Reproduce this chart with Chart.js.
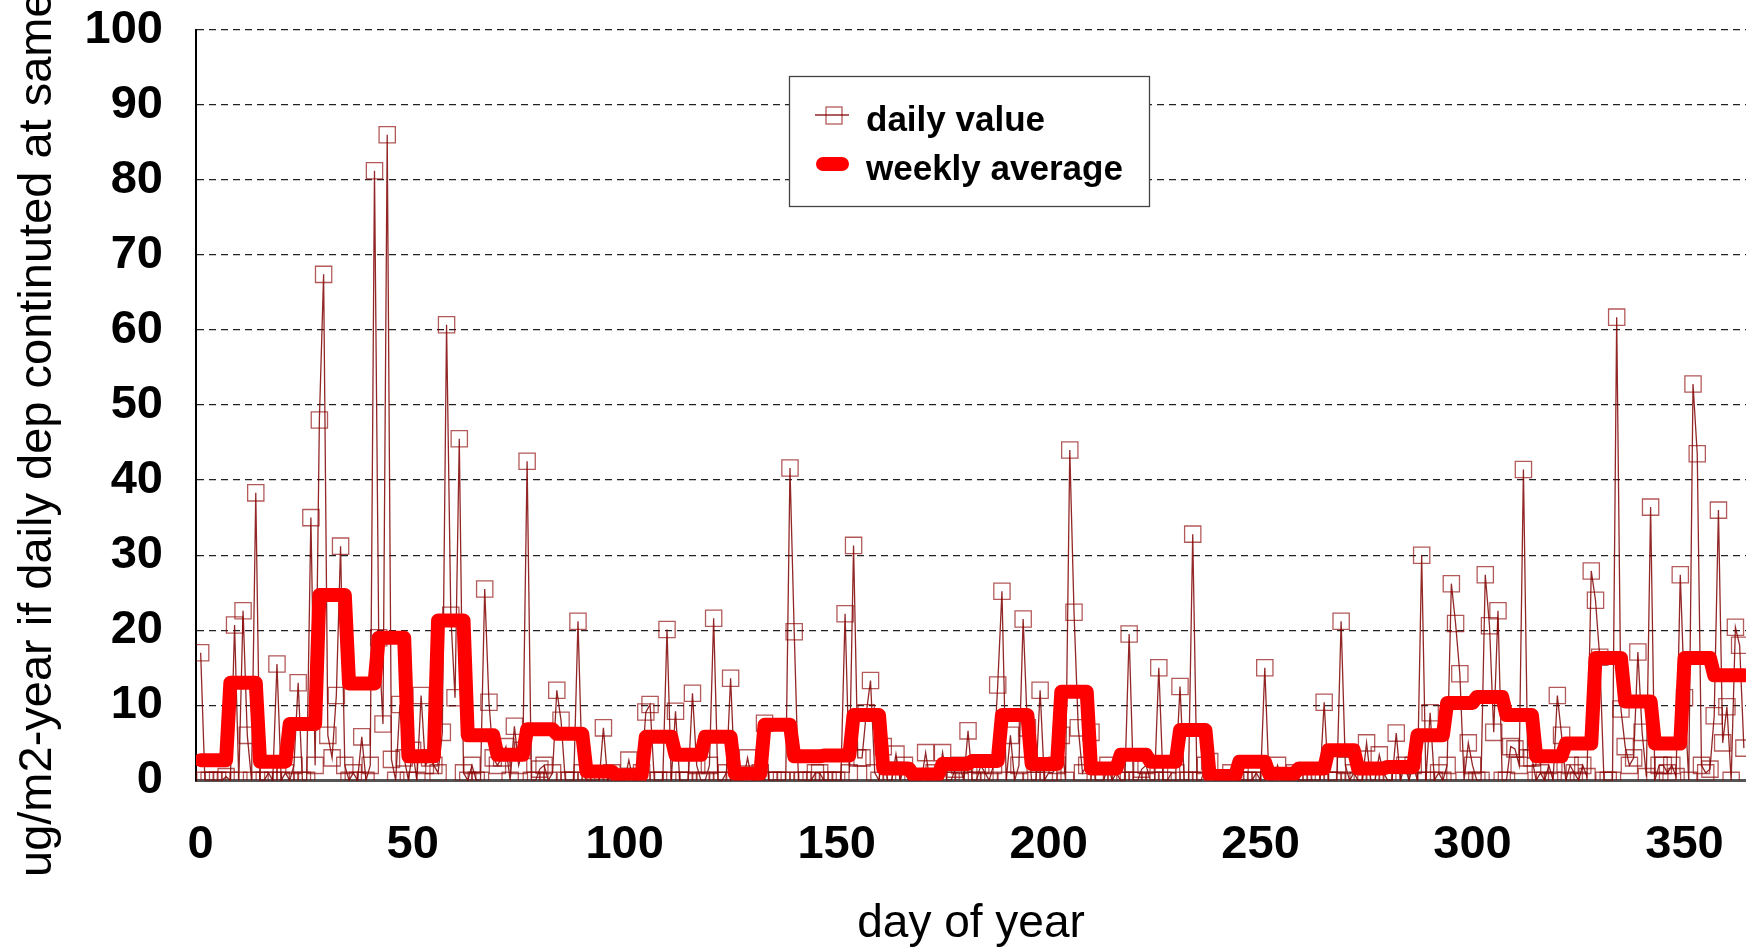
<!DOCTYPE html>
<html>
<head>
<meta charset="utf-8">
<title>daily deposition</title>
<script src="https://cdn.jsdelivr.net/npm/chart.js@4/dist/chart.umd.min.js"></script>
<style>
  html, body { margin: 0; padding: 0; background: #fff; overflow: hidden; }
  #wrap { width: 1746px; height: 950px; }
</style>
</head>
<body>
<div id="wrap"><canvas id="myChart" width="1746" height="950"></canvas></div>
<script>
/* global Chart */

// one value per day of year, day 0 first, a row per week
const dailyValues = [
  17, 0, 0, 0, 0, 0, 0.5,
  0, 20.7, 0, 22.6, 6, 0, 38.3,
  0, 0, 1, 0, 15.5, 0, 1,
  0, 2, 13, 0, 0, 35, 2,
  48, 67.4, 6, 3, 11.3, 31.2, 2,
  0, 1, 0, 5.8, 0, 2, 81.2,
  19, 7.5, 86, 2.8, 0, 10.1, 3,
  0, 4, 0, 11.3, 2, 3, 2,
  1, 6.4, 60.7, 22, 11, 45.5, 1,
  0, 2, 0, 0, 25.5, 10.4, 3,
  2, 3, 4.5, 0, 7.2, 2, 4,
  42.5, 0, 0, 1.5, 2, 0, 1,
  12, 8, 0, 0, 0, 21.2, 1,
  0, 0, 0, 0, 7, 0, 1,
  0, 0, 0, 2.7, 0, 0, 1,
  9.1, 10.1, 0, 0, 0, 20.1, 0,
  9.2, 0, 0, 0, 11.6, 2, 0,
  0, 2, 21.6, 0, 0, 1, 13.6,
  0, 0, 0, 3, 0, 0, 1,
  7.6, 0, 0, 0, 0, 0, 41.6,
  19.8, 0, 0, 0, 0, 1, 1,
  0, 0, 0, 0, 0, 22.2, 1,
  31.3, 3, 3, 9, 13.3, 1, 0,
  4.5, 0, 0, 3.5, 0, 2, 0,
  0, 0, 0, 3.7, 0, 1, 0,
  3.7, 0, 0, 1.5, 2, 0, 6.6,
  0, 0, 2, 1, 0, 2, 12.7,
  25.2, 0, 6, 0, 2, 21.5, 7,
  0, 0, 12, 0, 1, 1, 2,
  6, 0, 44, 22.4, 7, 1, 2,
  6.4, 0, 0, 0, 2, 0, 1,
  0, 0, 19.5, 0, 0, 1.5, 2,
  0, 0, 15, 0, 0, 1, 1,
  12.5, 0, 0, 32.8, 0, 0, 2,
  2.5, 0, 0, 0, 0, 1, 0,
  0, 0, 0, 0, 1, 0, 15,
  0, 0, 2, 0, 0, 0, 1,
  0, 0, 0, 0, 0, 0, 10.4,
  0, 0, 0, 21.2, 2, 0, 1,
  0, 0, 5, 0, 0, 3.4, 1,
  0, 0, 6.3, 0, 2, 0, 2,
  0, 30, 0, 9, 0, 1, 0,
  2, 26.2, 20.9, 14.2, 0, 5, 2,
  0, 0, 27.4, 20.6, 6.4, 22.6, 0,
  0, 4.5, 4.2, 2, 41.4, 3, 3,
  0, 1, 0, 2, 0, 11.3, 6,
  0, 2, 1, 0, 2, 0.5, 27.9,
  24, 16.4, 0, 0, 0, 61.7, 9.5,
  4.5, 2, 3, 17.1, 6.4, 0.5, 36.4,
  0, 2, 2, 1, 2, 0.5, 27.4,
  11, 0, 52.8, 43.5, 2, 1, 1.5,
  8.6, 36, 5, 9.8, 0, 20.4, 18,
  4.3
];

// weekly average, one per week starting at day 0
const weeklyAverages = [
  2.7, 13, 2.5, 7.5, 24.7, 12.9, 19, 3.2, 21.3, 6,
  3.4, 6.8, 6.2, 1.2, 0.7, 5.8, 3.4, 5.8, 0.9, 7.4,
  3.2, 3.3, 8.7, 1.6, 0.8, 2.2, 2.6, 8.7, 2.2, 11.8,
  1.6, 3.4, 2.5, 6.7, 0.6, 2.5, 0.9, 1.6, 4, 1.6,
  1.8, 6, 10.3, 11.1, 8.7, 3.2, 4.9, 16.3, 10.5, 4.9,
  16.3, 14, 14
];

const seriesNames = ['daily value', 'weekly average'];
const xTickValues = [0, 50, 100, 150, 200, 250, 300, 350];
const yTickValues = [0, 10, 20, 30, 40, 50, 60, 70, 80, 90, 100];
const xTitle = 'day of year';
const yTitle = 'ug/m2-year if daily dep continuted at same';

const depChart = (function () {
  'use strict';

  const fontName = "'Liberation Sans', Arial, Helvetica, sans-serif";
  const dailyColor = 'rgba(128, 0, 0, 0.85)';
  const markColor = 'rgba(140, 0, 0, 0.65)';
  const weekColor = '#ff0000';

  function buildDaily () {
    return dailyValues.map(function (v, day) {
      return { x: day, y: v };
    });
  }

  function buildWeekly () {
    // each day gets the average of its week, so the line steps
    return dailyValues.map(function (v, day) {
      return { x: day, y: weeklyAverages[Math.floor(day / 7)] };
    });
  }

  // no extra room for edge labels, the plot fills to the right edge
  function noScalePadding (scale) {
    scale.paddingLeft = 0;
    scale.paddingRight = 0;
    scale.paddingTop = 0;
    scale.paddingBottom = 0;
  }

  // y title runs bottom to top and off the top edge, like the original
  const yTitlePlugin = {
    id: 'yTitle',
    afterDraw: function (chart) {
      const ctx = chart.ctx;
      ctx.save();
      ctx.translate(51, 877);
      ctx.rotate(-Math.PI / 2);
      ctx.font = '47px ' + fontName;
      ctx.fillStyle = '#000';
      ctx.textAlign = 'left';
      ctx.textBaseline = 'alphabetic';
      ctx.fillText(yTitle, 0, 0);
      ctx.restore();
    }
  };

  // boxed legend sitting inside the plot
  const boxLegend = {
    id: 'boxLegend',
    afterDraw: function (chart) {
      const ctx = chart.ctx;
      ctx.save();
      ctx.fillStyle = '#fff';
      ctx.fillRect(789, 76, 360, 130);
      ctx.strokeStyle = '#444';
      ctx.lineWidth = 1.3;
      ctx.strokeRect(789.5, 76.5, 360, 130);

      // daily value sample
      ctx.strokeStyle = dailyColor;
      ctx.lineWidth = 1.3;
      ctx.beginPath();
      ctx.moveTo(815, 115);
      ctx.lineTo(849, 115);
      ctx.stroke();
      ctx.strokeStyle = markColor;
      ctx.strokeRect(826, 107, 16, 17);

      // weekly average sample
      ctx.strokeStyle = weekColor;
      ctx.lineWidth = 14;
      ctx.lineCap = 'round';
      ctx.beginPath();
      ctx.moveTo(823, 164);
      ctx.lineTo(842, 164);
      ctx.stroke();

      ctx.fillStyle = '#000';
      ctx.font = 'bold 35px ' + fontName;
      ctx.textAlign = 'left';
      ctx.textBaseline = 'alphabetic';
      ctx.fillText(seriesNames[0], 866, 131);
      ctx.fillText(seriesNames[1], 866, 179.5);
      ctx.restore();
    }
  };

  function init () {
    console.log('Init deposition chart');
    const ctx = document.getElementById('myChart');
    return new Chart(ctx, {
      type: 'line',
      data: {
        datasets: [{
          label: seriesNames[0],
          data: buildDaily(),
          borderColor: dailyColor,
          borderWidth: 1.3,
          pointStyle: 'rect',
          pointRadius: 11.5,
          pointBorderWidth: 1.3,
          pointBorderColor: markColor,
          pointBackgroundColor: 'rgba(0,0,0,0)',
          tension: 0,
          clip: 0,
          order: 2
        }, {
          label: seriesNames[1],
          data: buildWeekly(),
          borderColor: weekColor,
          borderWidth: 14,
          borderJoinStyle: 'round',
          borderCapStyle: 'round',
          pointRadius: 0,
          tension: 0,
          clip: 0,
          order: 1
        }]
      },
      options: {
        responsive: false,
        animation: false,
        events: [],
        layout: {
          autoPadding: false,
          padding: { top: 29.6, right: 0, bottom: 0, left: 0 }
        },
        plugins: {
          legend: { display: false },
          tooltip: { enabled: false }
        },
        scales: {
          x: {
            type: 'linear',
            min: -1.1,
            max: 364.5,
            grid: { display: false, drawTicks: false },
            border: { display: true, color: '#555', width: 3 },
            afterBuildTicks: function (scale) {
              scale.ticks = xTickValues.map(function (v) { return { value: v }; });
            },
            afterFit: function (scale) {
              scale.height = 169.6;
              noScalePadding(scale);
            },
            ticks: {
              color: '#000',
              padding: 36,
              maxRotation: 0,
              autoSkip: false,
              font: { family: fontName, size: 47, weight: 'bold' }
            },
            title: {
              display: true,
              text: xTitle,
              color: '#000',
              padding: { top: 0, bottom: 0 },
              font: { family: fontName, size: 46, lineHeight: 1.1 }
            }
          },
          y: {
            min: 0,
            max: 100,
            grid: { color: '#222', lineWidth: 1.2, drawTicks: false },
            border: { display: true, color: '#000', width: 2, dash: [7, 5] },
            afterBuildTicks: function (scale) {
              scale.ticks = yTickValues.map(function (v) { return { value: v }; });
            },
            afterFit: function (scale) {
              scale.width = 196;
              noScalePadding(scale);
            },
            ticks: {
              color: '#000',
              padding: 33,
              font: { family: fontName, size: 47, weight: 'bold' }
            }
          }
        }
      },
      plugins: [yTitlePlugin, boxLegend]
    });
  }

  return {
    init: init
  };
}());

window.addEventListener('load', depChart.init);
</script>
</body>
</html>
